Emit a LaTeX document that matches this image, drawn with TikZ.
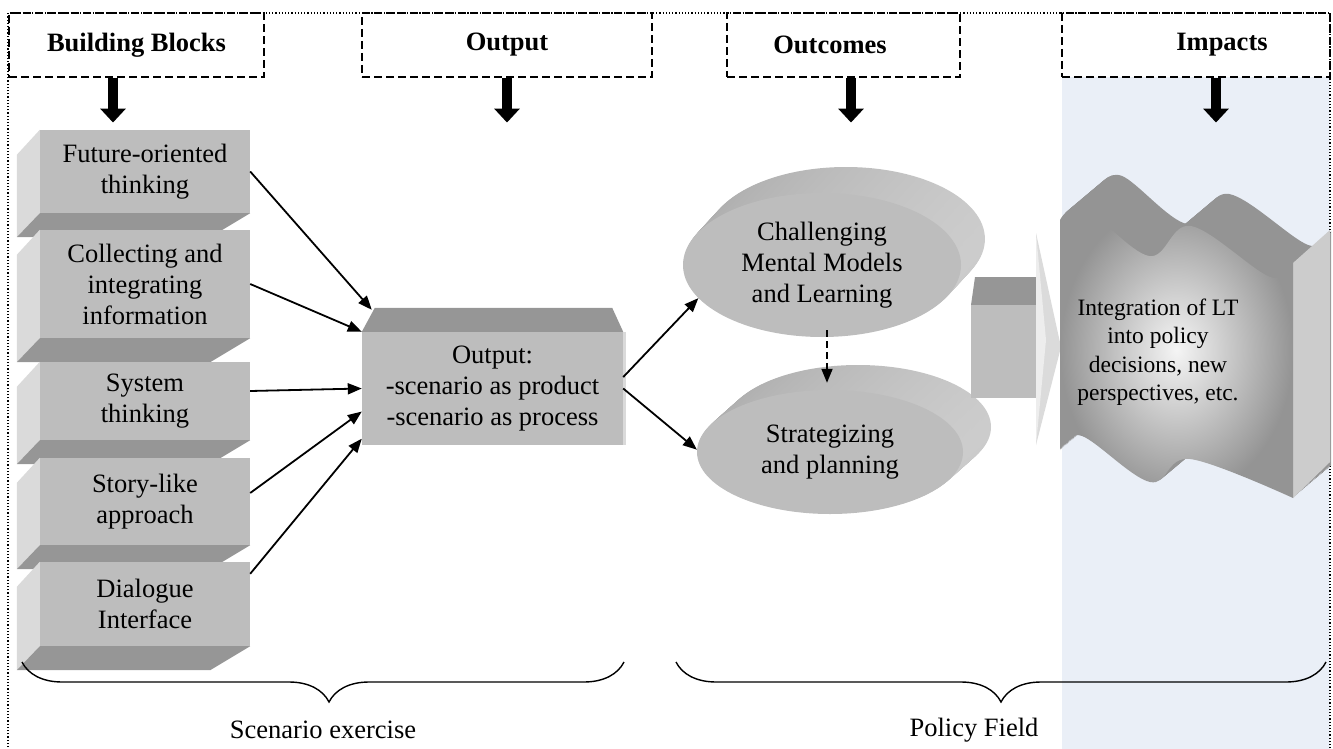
\documentclass[tikz,border=0pt]{standalone}
\usepackage{fontspec}
\setmainfont{Liberation Serif}
\usetikzlibrary{arrows.meta,shapes.geometric,decorations.pathreplacing}

\definecolor{impactbg}{RGB}{234,239,247}
\definecolor{faceg}{RGB}{189,189,189}
\definecolor{sideg}{RGB}{218,218,218}
\definecolor{darkg}{RGB}{150,150,150}

\tikzset{
  txt/.style={font=\fontsize{26.5}{31}\selectfont, align=center, inner sep=0pt},
  hdrbox/.style={draw, dash pattern=on 8pt off 4pt, line width=1.1pt, minimum height=64pt, inner sep=0pt},
  hdrtxt/.style={font=\fontsize{26.5}{31}\selectfont\bfseries},
  blockface/.style={txt, fill=faceg, minimum width=210pt, minimum height=#1},
  downarr/.style={line width=10pt, -{Triangle[width=25pt,length=14pt]}},
  link/.style={line width=1.8pt, -{Triangle[width=11pt,length=14pt]}},
  brc/.style={decorate, decoration={brace, amplitude=40pt, aspect=#1}, line width=1.4pt},
  extr/.style={left color=black!32, middle color=black!46, right color=black!20}
}

% side and bottom faces of a building block
\newcommand\blockfaces[1]{%
  \fill[sideg] (#1.north west) -- (#1.south west) -- ++(-23,24) -- ([shift={(-23,25)}]#1.north west) -- cycle;
  \fill[darkg] (#1.south west) -- (#1.south east) -- ++(-40,24) -- ([shift={(-23,24)}]#1.south west) -- cycle;}

\newcommand\wavepath{plot[smooth, tension=0.6] coordinates {(1060,220) (1084,208) (1149,256) (1191,226) (1270,277) (1293,263)}
  -- (1293,498) -- plot[smooth, tension=0.6] coordinates {(1293,498) (1190,459) (1150,482) (1082,436) (1060,450)} -- cycle}

\begin{document}
\begin{tikzpicture}[x=1pt,y=-1pt]
\useasboundingbox (0,0) rectangle (1333,749);

\fill[impactbg] (1062,77) rectangle (1330,760);
\draw[dotted, line width=1.2pt] (8,760) -- (8,13) -- (1330,13) -- (1330,760);

% headers
\node[hdrbox, minimum width=255pt] (hbb) at (136.5,45) {};
\node[hdrbox, minimum width=290pt] (hout) at (507,45) {};
\node[hdrbox, minimum width=233pt] (hoc) at (843.5,45) {};
\node[hdrbox, minimum width=268pt] (himp) at (1196,45) {};
\node[hdrtxt] (tbb) at (hbb) {Building Blocks};
\node[hdrtxt] (tout) at (hout) {Output};
\node[hdrtxt] (toc) at (830,45) {Outcomes};
\node[hdrtxt] (timp) at (1222,45) {Impacts};

\draw[downarr] ([xshift=-23.5pt]hbb.south) -- ++(0,45);
\draw[downarr] (hout.south) -- ++(0,45);
\draw[downarr] ([xshift=7.5pt]hoc.south) -- ++(0,45);
\draw[downarr] ([xshift=20pt]himp.south) -- ++(0,45);

% building blocks
\node[blockface=83pt] (fut) at (145,171.5) {Future-oriented\\thinking};
\blockfaces{fut}
\node[blockface=108pt] (coll) at (145,284) {Collecting and\\integrating\\information};
\blockfaces{coll}
\node[blockface=78pt] (sys) at (145,401) {System\\thinking};
\blockfaces{sys}
\node[blockface=87pt] (story) at (145,501.5) {Story-like\\approach};
\blockfaces{story}
\node[blockface=84pt] (dial) at (145,604) {Dialogue\\Interface};
\blockfaces{dial}

% output
\node[txt, fill=faceg, minimum width=261pt, minimum height=113pt] (outp) at (492.5,388.5) {Output:\\-scenario as product\\-scenario as process};
\fill[darkg] (outp.north west) -- ++(13,-24) -- ([shift={(-11,-24)}]outp.north east) -- (outp.north east) -- cycle;
\fill[sideg] (outp.north east) rectangle ([xshift=3pt]outp.south east);

\draw[link] (fut.east) -- ([shift={(10,-22)}]outp.north west);
\draw[link] (coll.east) -- (outp.north west);
\draw[link] ([yshift=10pt]sys.east) -- (outp.west);
\draw[link] ([yshift=8.5pt]story.east) -- (outp.190);
\draw[link] ([yshift=-12pt]dial.north east) -- (outp.201);

% outcomes
\foreach \k in {26,25,...,1}
  \shade[extr] ({822+0.92*\k},{265-\k}) ellipse [x radius=139pt, y radius=72pt];
\node[txt, ellipse, fill=faceg, minimum width=278pt, minimum height=144pt] (chal) at (822,265) {Challenging\\Mental Models\\and Learning};

\foreach \k in {25,24,...,1}
  \shade[extr] ({830+1.12*\k},{452-\k}) ellipse [x radius=133pt, y radius=62pt];
\node[txt, ellipse, fill=faceg, minimum width=266pt, minimum height=124pt] (strat) at (830,452) {Strategizing\\and planning};

\draw[link] (outp.5) -- (chal.195);
\draw[link] (outp.east) -- (strat.179);
\draw[link, dash pattern=on 7pt off 4pt] ([xshift=5pt,yshift=7pt]chal.south) -- ([xshift=-3pt,yshift=7pt]strat.north);

% block arrow
\fill[darkg] (975,277) -- (1037,277) -- (1037,305) -- (971,305) -- cycle;
\fill[faceg] (971,305) rectangle (1037,398);
\fill[black!14] (1036,233) -- (1061,347) -- (1036,445) -- cycle;
\fill[black!7] (1036,233) -- (1046,340) -- (1036,445) -- cycle;

% impacts
\foreach \k in {32,31,...,1}
  \fill[black!42, shift={({1.19*\k},{-\k})}] \wavepath;
\fill[black!20] (1293,263) -- (1330,230) -- (1330,462) -- (1293,498) -- cycle;
\shade[inner color=black!4, outer color=black!42] \wavepath;
\node[txt, font=\fontsize{23.5}{28.5}\selectfont] (integ) at (1158,352) {Integration of LT\\into policy\\decisions, new\\perspectives, etc.};

% braces
\coordinate (scL) at (22,662);
\coordinate (scR) at (624,662);
\coordinate (pfL) at (676,662);
\coordinate (pfR) at (1326,662);
\draw[brc=0.49] (scR) -- (scL);
\draw[brc=0.5] (pfR) -- (pfL);
\node[txt] (scen) at (323,730) {Scenario exercise};
\node[txt] (pol) at (974,730) {Policy Field};

\end{tikzpicture}
\end{document}
